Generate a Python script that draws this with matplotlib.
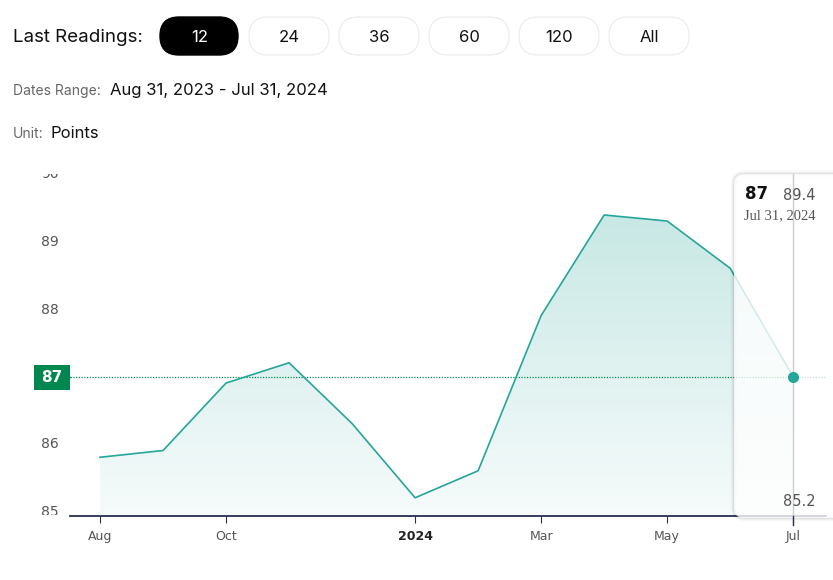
import matplotlib
matplotlib.use('Agg')
from matplotlib import pyplot as plt
from matplotlib.patches import FancyBboxPatch
from matplotlib.transforms import Bbox, TransformedBbox
import numpy as np

months = ['Aug', 'Sep', 'Oct', 'Nov', 'Dec', 'Jan', 'Feb', 'Mar', 'Apr', 'May', 'Jun', 'Jul']
values = [85.81, 85.91, 86.91, 87.21, 86.31, 85.21, 85.61, 87.91, 89.40, 89.31, 88.61, 87.00]
tick_idx = [0, 2, 5, 7, 9, 11]
tick_labels = ['Aug', 'Oct', '2024', 'Mar', 'May', 'Jul']
y_ticks = [85, 86, 87, 88, 89, 90]
buttons = ['12', '24', '36', '60', '120', 'All']
last_value = values[-1]
hi, lo = max(values), min(values)

W, H = 833, 580
teal = '#26a69a'
green = '#00874f'
grey = '#555555'
head_font = 'Inter'

fig = plt.figure(figsize=(W / 100, H / 100), dpi=100)

# pixel canvas for header and overlays
bg = fig.add_axes([0, 0, 1, 1], zorder=0)
bg.set_xlim(0, W)
bg.set_ylim(H, 0)
bg.axis('off')

# header
bg.text(13, 37, 'Last Readings:', fontsize=13.5, family=head_font, color='#111111', va='center')
bx = [160, 249, 339, 429, 519, 609]
for i, lab in enumerate(buttons):
    sel = i == 0
    bg.add_patch(FancyBboxPatch((bx[i], 17), 78 if sel else 80, 38,
                                boxstyle='round,pad=0,rounding_size=19',
                                fc='black' if sel else 'white',
                                ec='black' if sel else '#eeeeee', lw=1))
    bg.text(bx[i] + 40, 37, lab, fontsize=12, family=head_font,
            color='white' if sel else '#111111', ha='center', va='center')

bg.text(13, 91, 'Dates Range:', fontsize=10, family=head_font, color='#666666', va='center')
bg.text(110, 90, 'Aug 31, 2023 - Jul 31, 2024', fontsize=12, family=head_font, color='#111111', va='center')
bg.text(13, 134, 'Unit:', fontsize=10, family=head_font, color='#666666', va='center')
bg.text(51, 133, 'Points', fontsize=12, family=head_font, color='#111111', va='center')

# chart axes
ax = fig.add_axes([70 / W, 64 / H, 756 / W, 342 / H], zorder=1)
ax.patch.set_alpha(0)
x = np.arange(len(values))
ax.set_xlim(-0.476, 11.52)
ax.set_ylim(84.94, 90.007)
for s in ['top', 'right', 'left']:
    ax.spines[s].set_visible(False)
ax.spines['bottom'].set_color('#2b2d4f')
ax.spines['bottom'].set_linewidth(1.3)
ax.set_yticks([])
ax.set_xticks(tick_idx)
ax.set_xticklabels(tick_labels, fontsize=9, color=grey)
ax.get_xticklabels()[2].set_fontweight('bold')
ax.get_xticklabels()[2].set_color('#222222')
ax.tick_params(axis='x', length=5, color='#2b2d4f', pad=5)

# gradient fill under the line
poly = ax.fill_between(x, values, 84.94, color='none', lw=0)
top_c = np.array([0.76, 0.90, 0.885])
bot_c = np.array([0.965, 0.985, 0.985])
t = np.linspace(0, 1, 256)[:, None]
grad = top_c * (1 - t) + bot_c * t
img = ax.imshow(grad[:, None, :].repeat(2, axis=1), extent=[-0.476, 11.52, 84.94, 90.007],
                aspect='auto', origin='upper', zorder=1)
img.set_clip_path(poly.get_paths()[0], transform=ax.transData)
ax.plot(x, values, color=teal, lw=1.2, zorder=3)

# last value line and label
ax.axhline(last_value, color=green, lw=0.9, ls=(0, (1, 1.2)), zorder=2)
bg.add_patch(plt.Rectangle((34, 365), 36, 25, fc=green, ec='none'))
bg.plot([66, 70], [377, 377], color=green, lw=1)
ax.text(52, 377, f'{last_value:g}', transform=bg.transData, color='white', fontsize=11,
        fontweight='bold', ha='center', va='center', clip_on=False, zorder=9)

# y tick labels, clipped to plot height
clip = TransformedBbox(Bbox([[0, 174], [70, 515]]), bg.transData)
for v in y_ticks:
    if v == last_value:
        continue
    py = 377 - (v - last_value) * 67.5
    tx = bg.text(50, py, str(v), fontsize=10, color=grey, ha='center', va='center')
    tx.set_clip_box(clip)
    tx.set_clip_on(True)

# tooltip: soft shadow drawn as outlines so the inside stays clean
for k, a in [(5, 0.025), (3, 0.04), (1.5, 0.06)]:
    sh = FancyBboxPatch((734, 174), 110, 344, boxstyle='round,pad=0,rounding_size=10',
                        fc='none', ec='#000000', lw=k, alpha=a, transform=bg.transData,
                        clip_on=False, zorder=4)
    ax.add_patch(sh)
box = FancyBboxPatch((734, 174), 110, 344, boxstyle='round,pad=0,rounding_size=10',
                     fc='white', ec='none', alpha=0.8, transform=bg.transData,
                     clip_on=False, zorder=5)
ax.add_patch(box)
ax.plot([x[-1], x[-1]], [84.94, 90.007], color='#cccccc', lw=1, zorder=6, clip_on=False)
ax.plot([x[-1], x[-1]], [84.94, 84.8], color='#2b2d4f', lw=1, zorder=6, clip_on=False)
ax.plot(x[-1], last_value, 'o', color=teal, ms=7, zorder=7, clip_on=False)
ax.text(745, 194, f'{last_value:g}', transform=bg.transData, fontsize=12, fontweight='bold',
        color='#111111', va='center', zorder=8, clip_on=False)
ax.text(783, 195, f'{hi:.1f}', transform=bg.transData, fontsize=10.5, color=grey,
        va='center', zorder=8, clip_on=False)
ax.text(744, 216, 'Jul 31, 2024', transform=bg.transData, fontsize=10.5, family='Liberation Serif',
        color=grey, va='center', zorder=8, clip_on=False)
ax.text(783, 501, f'{lo:.1f}', transform=bg.transData, fontsize=10.5, color=grey,
        va='center', zorder=8, clip_on=False)

fig.savefig('out.png', dpi=100)
